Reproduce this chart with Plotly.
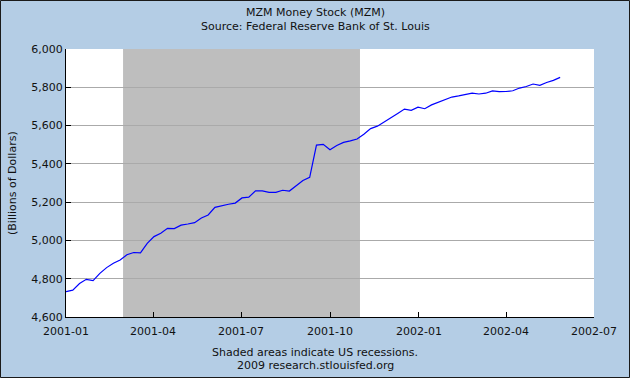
import pandas as pd
import plotly.graph_objects as go

# Weekly MZM values (billions of dollars), weeks starting 2001-01-01
start_date = "2001-01-01"
mzm_values = [
    4733, 4740, 4775, 4797, 4790, 4828, 4858, 4881, 4898, 4925,
    4937, 4935, 4985, 5020, 5037, 5063, 5062, 5080, 5086, 5093,
    5117, 5133, 5173, 5182, 5189, 5195, 5222, 5226, 5259, 5259,
    5251, 5251, 5262, 5258, 5288, 5313, 5330, 5498, 5502, 5474,
    5496, 5512, 5520, 5530, 5555, 5584, 5597, 5618, 5642, 5663,
    5686, 5680, 5696, 5688, 5708, 5722, 5736, 5749, 5755, 5764,
    5769, 5765, 5769, 5781, 5777, 5778, 5782, 5796, 5804, 5817,
    5810, 5825, 5836, 5852,
]
dates = pd.date_range(start_date, periods=len(mzm_values), freq="7D")

recession_start = "2001-03-01"
recession_end = "2001-11-01"

x_tick_values = ["2001-01-01", "2001-04-01", "2001-07-01", "2001-10-01",
                 "2002-01-01", "2002-04-01", "2002-07-01"]
x_tick_labels = ["2001-01", "2001-04", "2001-07", "2001-10",
                 "2002-01", "2002-04", "2002-07"]
y_tick_values = [4600, 4800, 5000, 5200, 5400, 5600, 5800, 6000]
y_tick_labels = ["4,600", "4,800", "5,000", "5,200", "5,400", "5,600", "5,800", "6,000"]

title_lines = ["MZM Money Stock (MZM)", "Source: Federal Reserve Bank of St. Louis"]
footer_lines = ["Shaded areas indicate US recessions.", "2009 research.stlouisfed.org"]
y_title = "(Billions of Dollars)"

W, H = 630, 378
L, R, T, B = 66, 36, 49, 61
pw, ph = W - L - R, H - T - B

FONT = "DejaVu Sans"
BG = "#B4CDE5"
TXT = "#111111"

fig = go.Figure()
fig.add_trace(go.Scatter(x=dates, y=mzm_values, mode="lines",
                         line=dict(color="#0000FF", width=1.2), hoverinfo="skip"))

fig.add_shape(type="rect", xref="x", yref="paper", x0=recession_start, x1=recession_end,
              y0=0, y1=1, fillcolor="#BEBEBE", line=dict(width=0), layer="between")

# outer border
fig.add_shape(type="rect", xref="paper", yref="paper",
              x0=(-L + 0.5) / pw, x1=(W - L - 0.5) / pw,
              y0=(-B + 0.5) / ph, y1=(H - B - 0.5) / ph,
              line=dict(color="#1a1a1a", width=1), fillcolor="rgba(0,0,0,0)", layer="above")


def py(ypix):
    return (H - B - ypix) / ph


def px(xpix):
    return (xpix - L) / pw


def note(text, x, y, angle=0):
    return dict(text=text, x=px(x), y=py(y), xref="paper", yref="paper",
                xanchor="center", yanchor="middle",
                showarrow=False, textangle=angle,
                font=dict(family=FONT, size=11, color=TXT))


ann = [
    note(title_lines[0], 315, 12),
    note(title_lines[1], 315, 26),
    note(footer_lines[0], 315, 352),
    note(footer_lines[1], 315, 365),
    note(y_title, 12, 183, -90),
]

fig.update_layout(
    width=W, height=H,
    margin=dict(l=L, r=R, t=T, b=B, pad=0),
    paper_bgcolor=BG, plot_bgcolor="white",
    showlegend=False,
    annotations=ann,
    font=dict(family=FONT, size=11, color=TXT),
)
fig.update_xaxes(range=["2001-01-01", "2002-07-01"], tickvals=x_tick_values, ticktext=x_tick_labels,
                 showgrid=False, showline=True, linecolor="black", linewidth=1,
                 ticks="inside", ticklen=5, tickcolor="black", zeroline=False,
                 ticklabelstandoff=4,
                 tickfont=dict(family=FONT, size=11, color=TXT))
fig.update_yaxes(range=[4600, 6000], tickvals=y_tick_values, ticktext=y_tick_labels,
                 showgrid=True, gridcolor="#AAAAAA", gridwidth=1,
                 showline=True, linecolor="black", linewidth=1,
                 ticks="inside", ticklen=5, tickcolor="black", zeroline=False,
                 tickfont=dict(family=FONT, size=11, color=TXT))

fig.write_html("out.html", config={"displayModeBar": False},
               post_script="document.body.style.margin='0px';document.body.style.padding='0px';")
